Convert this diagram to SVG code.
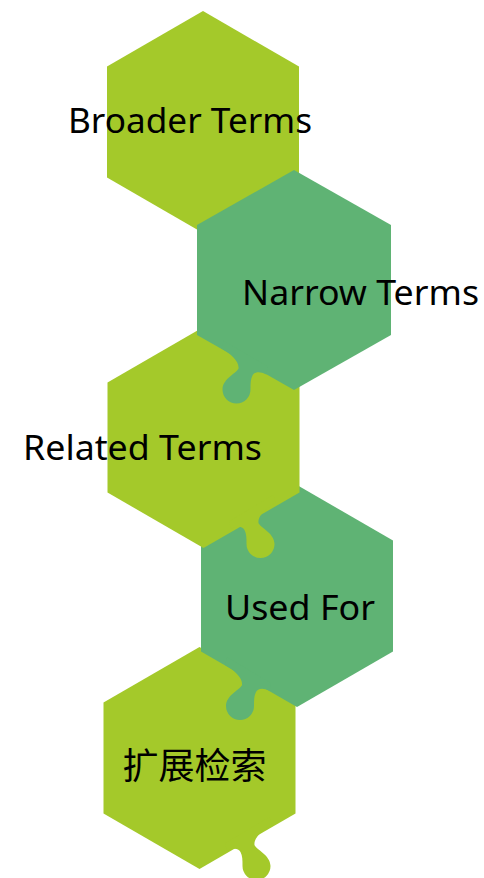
<svg xmlns="http://www.w3.org/2000/svg" xmlns:xlink="http://www.w3.org/1999/xlink" width="484" height="878" viewBox="0 0 484 878">
<style>
.lime{fill:#A4C92A}
.green{fill:#5FB374}
.lbl{font-family:"Noto Sans","Open Sans","DejaVu Sans",sans-serif;font-size:35px;fill:#000;text-anchor:middle}
.cjk{font-family:"Noto Sans CJK SC","Noto Sans",sans-serif;font-size:36px;fill:#000;text-anchor:middle}
</style>
<defs>
<path id="tab" d="M -24,-14 C -15,-9 -6,-1 -7,6 C -8,10 -23,16 -23,27 A 14 14 0 0 0 5,27 C 5,21 5,17 7,13 C 8.5,10 13,8 21,12 L 22,4 L -22,-22 Z"/>
</defs>
<rect width="484" height="878" fill="#fff"/>
<g id="node-broader">
<polygon class="lime" points="203,11 299,66.5 299,177.5 203,233 107,177.5 107,66.5"/>
<text class="lbl" x="190" y="133" textLength="244" lengthAdjust="spacingAndGlyphs">Broader Terms</text>
</g>
<g id="node-expand">
<polygon class="lime" points="199.5,647 295.5,702.5 295.5,813.5 199.5,869 103.5,813.5 103.5,702.5"/>
<use xlink:href="#tab" class="lime" transform="translate(247.5,839) scale(-1,1)"/>
<text class="cjk" x="194.5" y="779">扩展检索</text>
</g>
<g id="node-usedfor">
<polygon class="green" points="297,485 393,540.5 393,651.5 297,707 201,651.5 201,540.5"/>
<use xlink:href="#tab" class="green" transform="translate(249,679)"/>
<text class="lbl" x="300" y="620" textLength="150" lengthAdjust="spacingAndGlyphs">Used For</text>
</g>
<g id="node-related">
<polygon class="lime" points="203.5,327 299.5,382.5 299.5,492.5 203.5,548 107.5,492.5 107.5,382.5"/>
<use xlink:href="#tab" class="lime" transform="translate(251.5,517) scale(-1,1)"/>
<text class="lbl" x="142.5" y="460" textLength="239" lengthAdjust="spacingAndGlyphs">Related Terms</text>
</g>
<g id="node-narrow">
<polygon class="green" points="294,170 391,225 391,335 294,390 197,335 197,225"/>
<use xlink:href="#tab" class="green" transform="translate(245.5,362.5)"/>
<text class="lbl" x="360.5" y="305" textLength="237" lengthAdjust="spacingAndGlyphs">Narrow Terms</text>
</g>
</svg>
